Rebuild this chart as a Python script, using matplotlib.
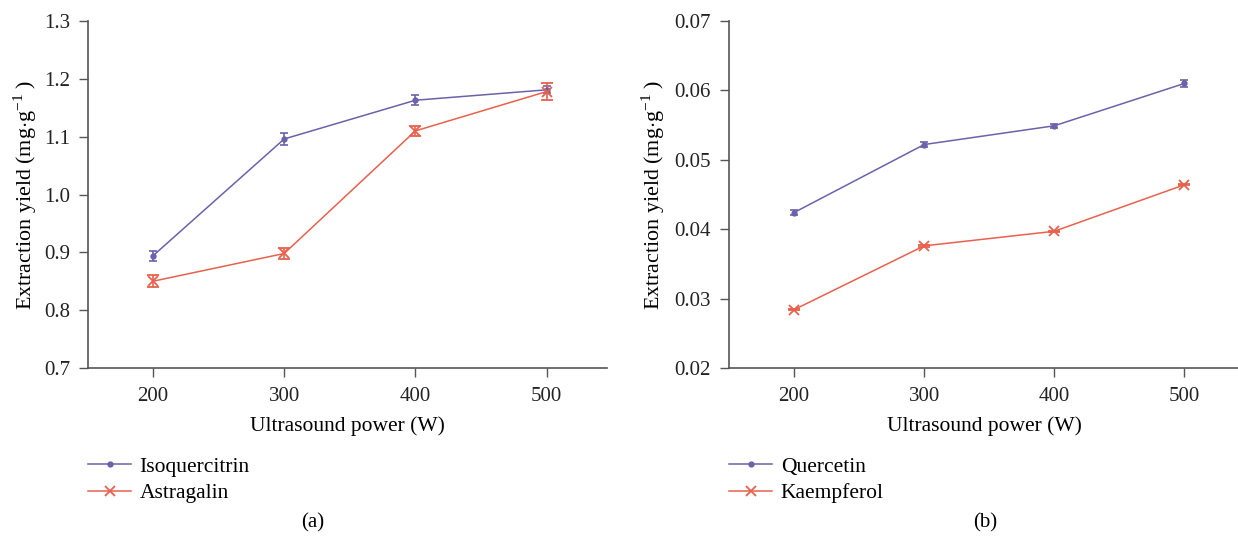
import numpy as np
import matplotlib.pyplot as plt
from matplotlib.lines import Line2D

plt.rcParams.update({'font.family': 'Liberation Serif', 'font.size': 15,
                     'mathtext.fontset': 'custom', 'mathtext.rm': 'Liberation Serif'})

# data
power = [200, 300, 400, 500]

isoquercitrin = [0.894, 1.096, 1.163, 1.181]
isoquercitrin_err = [0.009, 0.010, 0.009, 0.006]
astragalin = [0.850, 0.898, 1.110, 1.178]
astragalin_err = [0.010, 0.009, 0.009, 0.014]

quercetin = [0.0424, 0.0522, 0.0549, 0.0610]
quercetin_err = [0.0004, 0.0004, 0.0003, 0.0005]
kaempferol = [0.0284, 0.0376, 0.0397, 0.0464]
kaempferol_err = [0.0001, 0.0001, 0.0001, 0.0001]

BLUE = '#6a62aa'
RED = '#e8614d'
AX = '#555555'

fig = plt.figure(figsize=(12.38, 5.41), dpi=100)
ax1 = fig.add_axes([88/1238, 173/541, 519/1238, 347/541])
ax2 = fig.add_axes([729/1238, 173/541, 510/1238, 347/541])


def draw(ax, y1, e1, y2, e2, lab1, lab2, ylim, yticks, fmt, xlim, ylpad):
    ax.errorbar(power, y1, yerr=e1, color=BLUE, marker='o', ms=3.5, lw=1.1,
                capsize=3, elinewidth=1.2, capthick=1.2)
    ax.errorbar(power, y2, yerr=e2, color=RED, marker='x', ms=7, mew=1.3, lw=1.1,
                capsize=4, elinewidth=1.2, capthick=1.2)
    ax.set_xlim(*xlim)
    ax.set_ylim(*ylim)
    ax.set_xticks(power)
    ax.set_yticks(yticks)
    ax.set_yticklabels([fmt.format(v) for v in yticks])
    for s in ['top', 'right']:
        ax.spines[s].set_visible(False)
    for s in ['left', 'bottom']:
        ax.spines[s].set_color(AX)
        ax.spines[s].set_linewidth(1.2)
    ax.tick_params(colors='#222222', length=6.5, width=1, labelsize=15)
    ax.tick_params(axis='y', pad=6.5)
    ax.tick_params(axis='x', pad=7.5)
    ax.tick_params(axis='both', color=AX)
    ax.set_xlabel('Ultrasound power (W)', fontsize=15.5, labelpad=7)
    ax.set_ylabel('Extraction yield (mg$\\cdot$g$^{-1}$ )', fontsize=15.8, labelpad=ylpad)
    handles = [Line2D([], [], color=BLUE, marker='o', ms=3.5, lw=1.1),
               Line2D([], [], color=RED, marker='x', ms=7, mew=1.3, lw=1.1)]
    ax.legend(handles, [lab1, lab2], loc='upper left', bbox_to_anchor=(0.0, -0.255),
              frameon=False, fontsize=15.5, handlelength=2.0, handletextpad=0.4,
              labelspacing=0.3, borderaxespad=0, borderpad=0)


draw(ax1, isoquercitrin, isoquercitrin_err, astragalin, astragalin_err,
     'Isoquercitrin', 'Astragalin', (0.7, 1.3), np.arange(0.7, 1.31, 0.1), '{:.1f}',
     (150.5, 546), 3.5)
draw(ax2, quercetin, quercetin_err, kaempferol, kaempferol_err,
     'Quercetin', 'Kaempferol', (0.02, 0.07), np.arange(0.02, 0.0701, 0.01), '{:.2f}',
     (150, 542), 5.5)

fig.text(313/1238, 1 - 523/541, '(a)', ha='center', va='center', fontsize=15)
fig.text(985/1238, 1 - 523/541, '(b)', ha='center', va='center', fontsize=15)

fig.savefig('out.png', dpi=100)
